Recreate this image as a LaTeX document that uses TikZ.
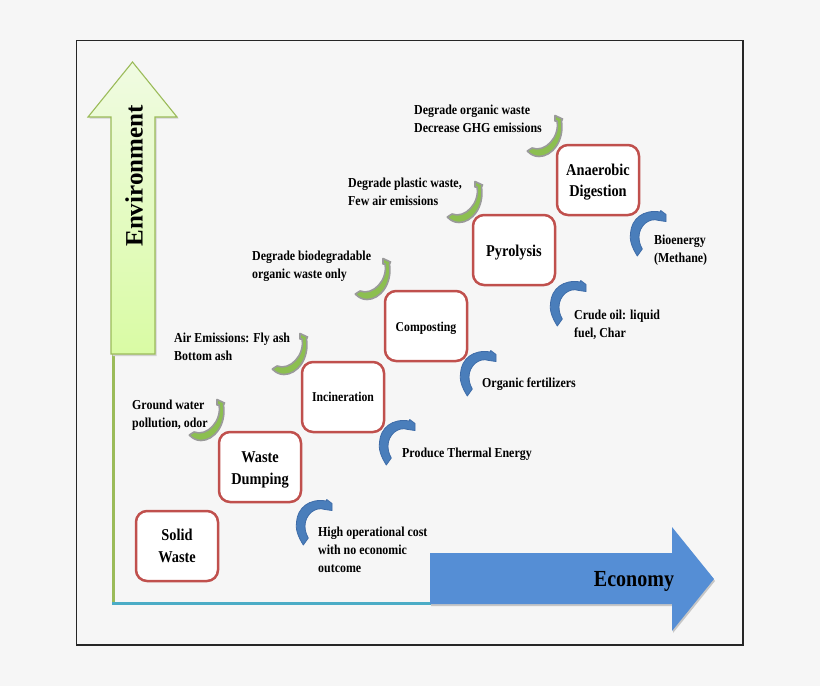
\documentclass[tikz,border=0pt]{standalone}
\usepackage{fontspec}
\setmainfont{Liberation Serif}[BoldFont={Liberation Serif Bold},BoldFeatures={FakeStretch=0.87}]
\usetikzlibrary{calc}
\definecolor{bgc}{HTML}{F6F6F6}
\definecolor{boxred}{HTML}{C0504D}
\definecolor{curveblue}{HTML}{4A7EBB}
\definecolor{curveedge}{HTML}{3E6CA8}
\definecolor{curvegreen}{HTML}{8CBF50}
\definecolor{curvegray}{HTML}{9A9A9A}
\definecolor{econblue}{HTML}{558ED5}
\definecolor{envedge}{HTML}{9BBB59}
\definecolor{axisteal}{HTML}{4BACC6}
\definecolor{envtop}{HTML}{F0FBE2}
\definecolor{envbot}{HTML}{D9FBA4}
\newcommand{\lowered}[2]{\raisebox{-#1pt}[\height][\depth]{#2}}
\tikzset{
  x=1pt,y=-1pt,
  stagebox/.style={draw=boxred,line width=2.5pt,fill=white,rounded corners=11pt,minimum width=82pt,minimum height=70pt,align=center,font=\bfseries\fontsize{16.5}{21.5}\selectfont,inner sep=0pt},
  smallstage/.style={stagebox,font=\bfseries\fontsize{13.5}{16}\selectfont},
  note/.style={anchor=north west,align=left,inner sep=0pt,font=\bfseries\fontsize{13.7}{18}\selectfont},
  blueshape/.style={fill=curveblue,draw=curveedge,line width=.8pt,line join=round},
  greenshape/.style={fill=curvegreen,draw=curvegray,line width=1.6pt,line join=round}
}
\newcommand{\bluecurve}[2]{%
  \path[blueshape,shift={(#1,#2)}] (303.3,545) .. controls (297,535) and (295.5,528) .. (296.5,522)
    .. controls (297.5,508) and (309,498) .. (326.5,501) -- (326.7,499.5) -- (332,503.5) -- (332,510.5) -- (325,509.5)
    .. controls (315,506) and (305,515) .. (305,526) .. controls (305,530) and (306,534) .. (308.3,538) -- cycle;}
\newcommand{\greencurve}[2]{%
  \path[greenshape,shift={(#1,#2)}] (217,399.5) -- (224.5,403) -- (223.5,405)
    .. controls (226.5,425) and (214,440.5) .. (201,440.5)
    .. controls (196,440.5) and (192,438) .. (189.3,435) -- (194,432)
    .. controls (207,437) and (222,421) .. (219,405) -- (217,405) -- cycle;}
\begin{document}
\begin{tikzpicture}
\useasboundingbox (0,0) rectangle (820,686);
\fill[bgc] (0,0) rectangle (820,686);
\draw[black!85,line width=1.1pt] (76.5,40.5) rectangle (743,645);
% axes
\draw[envedge,line width=3pt] (113,354) -- (113,603);
\draw[axisteal,line width=3pt] (112,603) -- (431,603);
% environment arrow
\path[fill=gray!35] (133.5,64) -- (178.5,118.5) -- (156.5,118.5) -- (156.5,356) -- (112.5,356) -- (112.5,118.5) -- (89.5,118.5) -- cycle;
\path[draw=envedge,line width=1.1pt,top color=envtop,bottom color=envbot] (132.5,62) -- (177,117) -- (155,117) -- (155,354) -- (111,354) -- (111,117) -- (88,117) -- cycle;
\node[rotate=90,font=\fontspec{Liberation Serif Bold}\fontsize{25}{27}\selectfont,inner sep=0pt] (env) at (134,176) {Environment};
% economy arrow
\path[fill=gray!45] (431,555) -- (673,555) -- (673,529) -- (715,581) -- (673,633) -- (673,606) -- (431,606) -- cycle;
\path[fill=econblue] (430,553) -- (672,553) -- (672,527) -- (714,579) -- (672,631) -- (672,604) -- (430,604) -- cycle;
\node[font=\bfseries\fontsize{23}{25}\selectfont,inner sep=0pt] (econ) at (634,581) {Economy};
% stages
\node[stagebox] (solid) at (177,546) {Solid\\Waste};
\node[stagebox] (dump) at (260,467) {\lowered{3}{Waste}\\\lowered{3}{Dumping}};
\node[smallstage] (incin) at (343,397) {Incineration};
\node[smallstage] (comp) at (426,326) {\lowered{2}{Composting}};
\node[stagebox] (pyro) at (514,250) {\lowered{3}{Pyrolysis}};
\node[stagebox] (anaer) at (598,180) {\lowered{2}{Anaerobic}\\\lowered{2}{Digestion}};
% green curves
\greencurve{0}{0}
\greencurve{83}{-66}
\greencurve{166}{-141}
\greencurve{258}{-218}
\greencurve{338}{-284}
% blue curves
\bluecurve{0}{0}
\bluecurve{83}{-80}
\bluecurve{164}{-149}
\bluecurve{254}{-219}
\bluecurve{334}{-289}
% notes
\node[note] (n1) at (132,400) {Ground water\\pollution, odor};
\node[note] (n2) at (174,333) {Air Emissions: Fly ash\\Bottom ash};
\node[note] (n3) at (252,251) {Degrade biodegradable\\organic waste only};
\node[note] (n4) at (348,178) {Degrade plastic waste,\\Few air emissions};
\node[note] (n5) at (414,105) {Degrade organic waste\\Decrease GHG emissions};
\node[note] (b1) at (318,527) {High operational  cost\\with no economic\\outcome};
\node[note] (b2) at (402,448) {Produce Thermal  Energy};
\node[note] (b3) at (482,378) {Organic fertilizers};
\node[note] (b4) at (574,310) {Crude oil: liquid\\fuel, Char};
\node[note] (b5) at (654,235) {Bioenergy\\(Methane)};
\end{tikzpicture}
\end{document}
